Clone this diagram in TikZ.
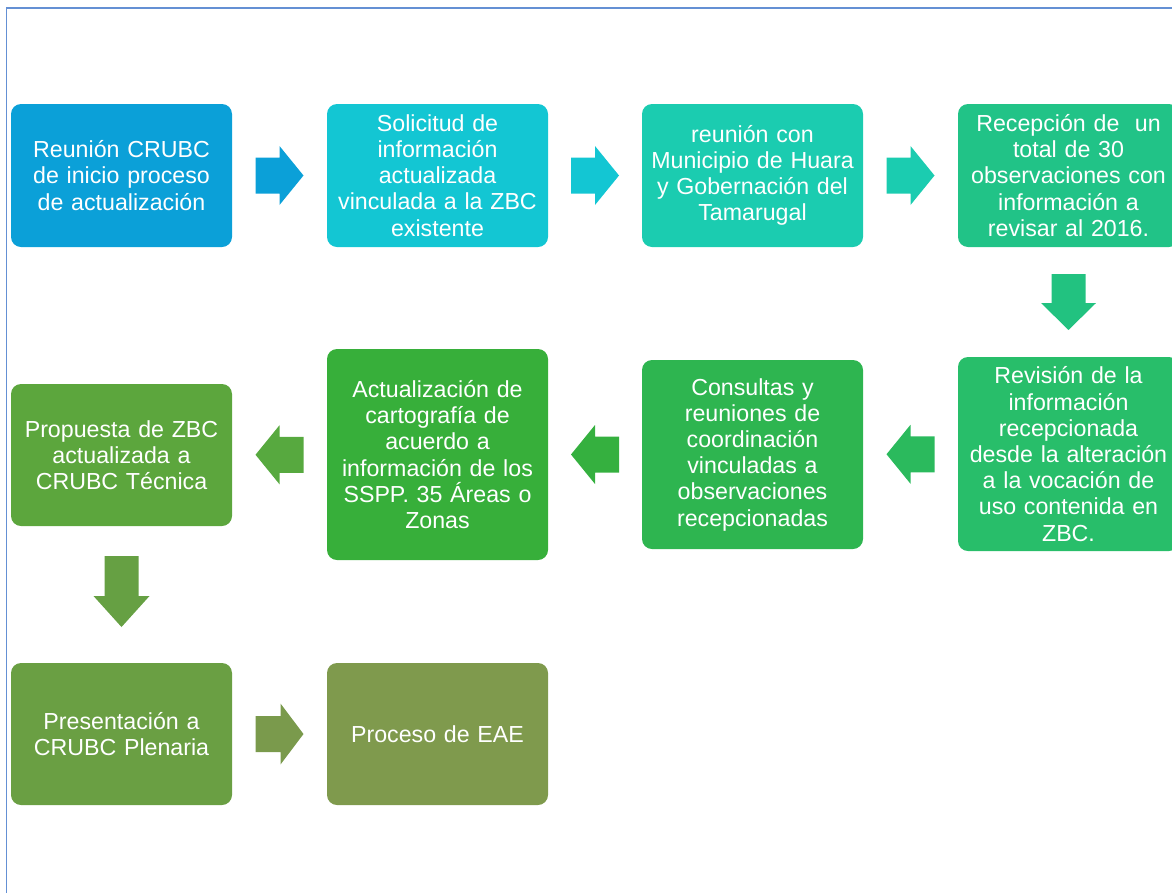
\documentclass[tikz,border=0pt]{standalone}
\usepackage{fontspec}
\setmainfont{Liberation Sans}
\usetikzlibrary{calc}
\definecolor{cA}{RGB}{11,160,216}
\definecolor{cB}{RGB}{19,198,211}
\definecolor{cC}{RGB}{27,204,176}
\definecolor{cD}{RGB}{33,195,135}
\definecolor{cE}{RGB}{40,190,106}
\definecolor{cF}{RGB}{46,181,80}
\definecolor{cG}{RGB}{55,175,58}
\definecolor{cH}{RGB}{92,166,61}
\definecolor{cI}{RGB}{106,159,67}
\definecolor{cJ}{RGB}{127,154,77}
\definecolor{aD}{RGB}{34,194,128}
\definecolor{aE}{RGB}{43,186,93}
\definecolor{aF}{RGB}{53,176,63}
\definecolor{aG}{RGB}{87,169,63}
\definecolor{aH}{RGB}{102,160,67}
\definecolor{aI}{RGB}{122,154,76}
\definecolor{frameblue}{RGB}{100,144,212}
% block arrow: color, center, angle, length, head length, shaft half, head half
\newcommand\blockarr[7]{\fill[#1, shift={(#2)}, rotate=#3]
  (-#4/2,-#6) -- (#4/2-#5,-#6) -- (#4/2-#5,-#7) -- (#4/2,0) --
  (#4/2-#5,#7) -- (#4/2-#5,#6) -- (-#4/2,#6) -- cycle;}
\begin{document}
\begin{tikzpicture}[x=1pt,y=-1pt,
  box/.style={rounded corners=10pt, minimum width=221pt, text width=216pt,
    align=center, inner sep=0pt, text=white,
    font=\fontsize{23.2}{26.2}\selectfont}]
\useasboundingbox (0,0) rectangle (1172,892);
\draw[frameblue, line width=1.6pt] (6.5,900) -- (6.5,8) -- (1180,8);

\node[box, fill=cA, minimum height=143pt] (b1) at (121.5,175.5)
  {Reunión CRUBC\\de inicio proceso\\de actualización};
\node[box, fill=cB, minimum height=143pt] (b2) at (437.5,175.5)
  {Solicitud de\\información\\actualizada\\vinculada a la ZBC\\existente};
\node[box, fill=cC, minimum height=143pt] (b3) at (752.5,175.5)
  {reunión con\\Municipio de Huara\\y Gobernación del\\Tamarugal};
\node[box, fill=cD, minimum height=143pt] (b4) at (1068.5,175.5)
  {Recepción de\ \ un\\total de 30\\observaciones con\\información a\\revisar al 2016.};
\node[box, fill=cE, minimum height=194pt] (b5) at (1068.5,454)
  {Revisión de la\\información\\recepcionada\\desde la alteración\\a la vocación de\\uso contenida en\\ZBC.};
\node[box, fill=cF, minimum height=189pt] (b6) at (752.5,454.5)
  {Consultas y\\reuniones de\\coordinación\\vinculadas a\\observaciones\\recepcionadas};
\node[box, fill=cG, minimum height=211pt] (b7) at (437.5,454.5)
  {Actualización de\\cartografía de\\acuerdo a\\información de los\\SSPP. 35 Áreas o\\Zonas};
\node[box, fill=cH, minimum height=142pt] (b8) at (121.5,455)
  {Propuesta de ZBC\\actualizada a\\CRUBC Técnica};
\node[box, fill=cI, minimum height=142pt] (b9) at (121.5,734)
  {Presentación a\\CRUBC Plenaria};
\node[box, fill=cJ, minimum height=142pt] (b10) at (437.5,734)
  {Proceso de EAE};

\coordinate (a12) at ($(b1.east)!0.5!(b2.west)$);
\coordinate (a23) at ($(b2.east)!0.5!(b3.west)$);
\coordinate (a34) at ($(b3.east)!0.5!(b4.west)$);
\coordinate (a45) at ($(b4.south)!0.5!(b5.north)$);
\coordinate (a56) at ($(b5.west)!0.5!(b6.east)$);
\coordinate (a67) at ($(b6.west)!0.5!(b7.east)$);
\coordinate (a78) at ($(b7.west)!0.5!(b8.east)$);
\coordinate (a89) at ($(b8.south)!0.5!(b9.north)+(0,-3)$);
\coordinate (a910) at ($(b9.east)!0.5!(b10.west)$);

\blockarr{cA}{a12}{0}{48}{24}{18}{29.5}
\blockarr{cB}{a23}{0}{48}{24}{18}{29.5}
\blockarr{cC}{a34}{0}{48}{24}{18}{29.5}
\blockarr{aD}{a45}{-90}{56}{27}{17}{27.5}
\blockarr{aE}{a56}{180}{48}{24}{18}{29.5}
\blockarr{aF}{a67}{180}{48}{24}{18}{29.5}
\blockarr{aG}{a78}{180}{48}{24}{18}{29.5}
\blockarr{aH}{a89}{-90}{71}{31}{17}{28}
\blockarr{aI}{a910}{0}{48}{23}{18}{30.5}
\end{tikzpicture}
\end{document}
